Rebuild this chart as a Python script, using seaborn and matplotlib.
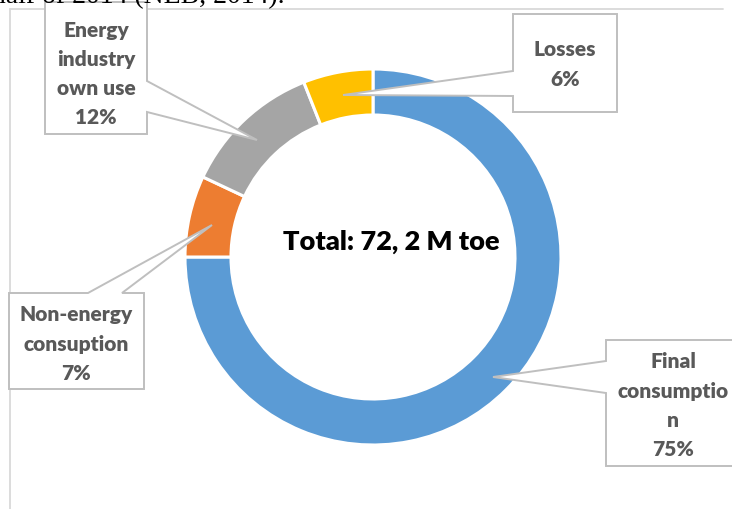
import matplotlib
matplotlib.use("Agg")
import matplotlib.pyplot as plt
from matplotlib.patches import Polygon
import seaborn as sns

# shares of total energy supply (%)
categories = ["Final consumption", "Non-energy consuption", "Energy industry own use", "Losses"]
shares = [75, 7, 12, 6]
label_lines = [["Final", "consumptio", "n"], ["Non-energy", "consuption"],
               ["Energy", "industry", "own use"], ["Losses"]]
colors = ["#5B9BD5", "#ED7D31", "#A5A5A5", "#FFC000"]
total_text = "Total: 72, 2 M toe"

sns.set_theme(style="white")
plt.rcParams["font.family"] = ["Lato", "DejaVu Sans"]

W, H = 732, 510
fig = plt.figure(figsize=(W / 100, H / 100), dpi=100)
ax = fig.add_axes([0, 0, 1, 1])


def fy(y):
    # pixel row (from top) -> data y
    return H - y


cx, cy, r_out, ring = 373, 258, 188, 46
ax.pie(shares, colors=colors, startangle=90, counterclock=False,
       center=(cx, fy(cy)), radius=r_out,
       wedgeprops=dict(width=ring, edgecolor="white", linewidth=2.2))

# chart area frame (top and left only visible)
ax.plot([10, 723], [fy(9.5), fy(9.5)], color="#D9D9D9", lw=1.3, zorder=1)
ax.plot([10, 10], [fy(9.5), fy(515)], color="#D9D9D9", lw=1.3, zorder=1)

# callout shapes: box + pointer to the ring
callouts = {
    "Final consumption": ([(606, 341), (745, 341), (745, 467), (606, 467),
                           (606, 394), (493, 378), (606, 362)], 673, 362),
    "Non-energy consuption": ([(9, 294), (88, 294), (212, 226), (122, 294),
                               (144, 294), (144, 390), (9, 390)], 76, 315),
    "Energy industry own use": ([(45, 3), (147, 3), (147, 82), (257, 141),
                                 (147, 113), (147, 135), (45, 135)], 96, 30),
    "Losses": ([(513, 15), (617, 15), (617, 113), (513, 113),
                (513, 97), (343, 96), (513, 72)], 565, 50),
}
line_h = 29.3
for name, share, lines in zip(categories, shares, label_lines):
    verts, tx, ty = callouts[name]
    ax.add_patch(Polygon([(x, fy(y)) for x, y in verts], closed=True,
                         facecolor="white", edgecolor="#BFBFBF", lw=1.4, zorder=3))
    for i, s in enumerate(lines + [f"{share}%"]):
        ax.text(tx, fy(ty + i * line_h), s, ha="center", va="center",
                fontsize=15, fontweight="heavy", color="#595959", zorder=4)

ax.text(391, fy(242), total_text, ha="center", va="center",
        fontsize=19.5, fontweight="heavy", color="black", zorder=4)

# cut-off caption line of the surrounding document
ax.text(-8, fy(3), "half of 2014 (NEB, 2014).", ha="left", va="baseline",
        fontsize=20, family="Liberation Serif", color="black")

ax.set_xlim(0, W)
ax.set_ylim(0, H)
ax.set_aspect("auto")
ax.axis("off")
fig.savefig("out.png", dpi=100)
